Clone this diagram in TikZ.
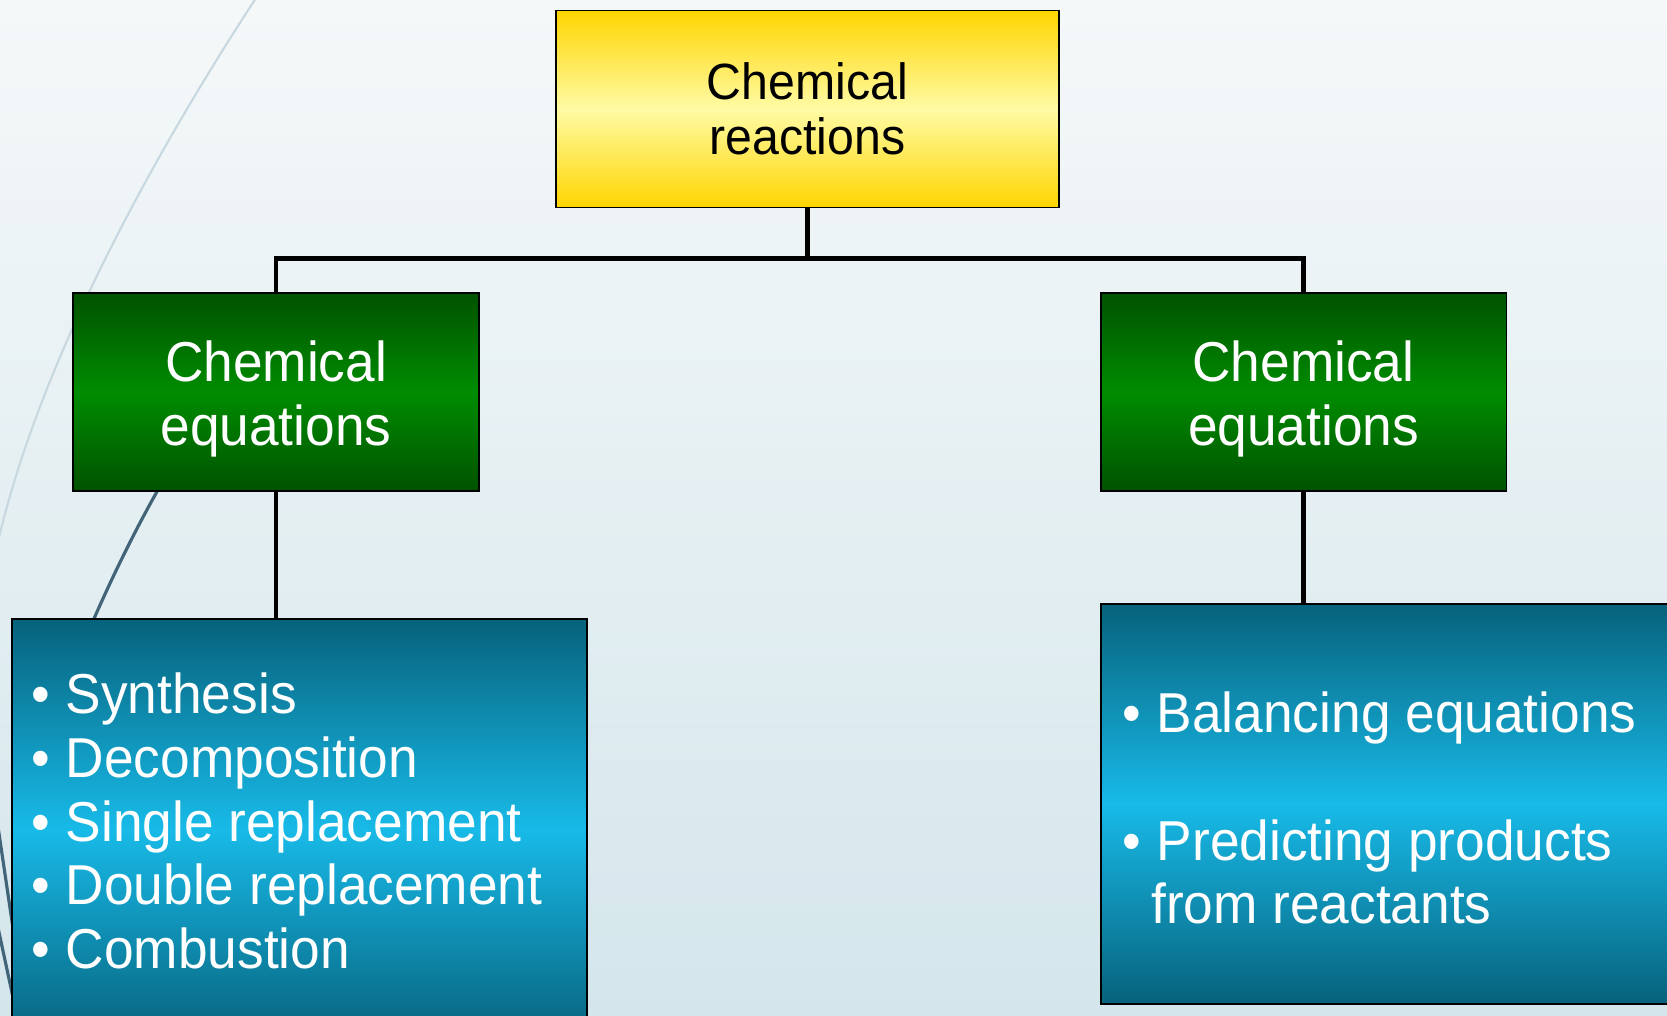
\documentclass[tikz,border=0pt]{standalone}
\usepackage{fontspec}
\setmainfont{Liberation Sans}[FakeStretch=0.947]
\usetikzlibrary{positioning}
\definecolor{bgtop}{RGB}{245,248,249}
\definecolor{bgbot}{RGB}{212,230,236}
\definecolor{gold}{RGB}{255,213,0}
\definecolor{paleyel}{RGB}{255,251,165}
\definecolor{greendk}{RGB}{0,82,0}
\definecolor{greenmd}{RGB}{0,140,0}
\definecolor{tealdk}{RGB}{7,98,124}
\definecolor{tealmd}{RGB}{24,186,232}
\definecolor{arcdark}{RGB}{66,100,120}
\definecolor{arclight}{RGB}{200,216,224}
\newcommand{\bitem}[1]{\makebox[0.68cm][l]{\textbullet}#1}
\newcommand{\toproom}{\rule{0pt}{31pt}}

\begin{document}
\begin{tikzpicture}
	[x=0.02cm,y=-0.02cm,
	every node/.style={inner sep=0pt},
	box/.style={draw=black,line width=1.1pt,align=center},
	gold box/.style={box,top color=gold,bottom color=gold,middle color=paleyel,
		minimum width=10.06cm,minimum height=3.94cm,font=\fontsize{29}{31.3}\selectfont},
	green box/.style={box,top color=greendk,bottom color=greendk,middle color=greenmd,
		text=white,minimum width=8.12cm,minimum height=3.96cm,font=\fontsize{32}{36.4}\selectfont},
	teal box/.style={box,top color=tealdk,bottom color=tealdk,middle color=tealmd},
	list/.style={text=white,align=left,anchor=north west,font=\fontsize{32}{36.4}\selectfont},
	link/.style={draw,line width=2.8pt}]
	\useasboundingbox (0,0) rectangle (1667,1016);
	\clip (0,0) rectangle (1667,1016);
	\fill[top color=bgtop,bottom color=bgbot] (0,0) rectangle (1667,1016);
	\draw[arclight,line width=1.2pt] (258,-5) .. controls (150,160) and (35,370) .. (-5,555);
	\draw[arcdark,line width=1.8pt] (185,445) .. controls (130,530) and (60,680) .. (30,800);
	\draw[arcdark,line width=1.8pt] (-3,820) -- (26,1016);
	\draw[arcdark,line width=1.8pt] (-3,923) -- (17,1016);
	\node[gold box] (top) at (807.5,109) {Chemical\\reactions};
	\node[green box] (eqleft) at (276,392) {\toproom Chemical\\equations};
	\node[green box] (eqright) at (1303.5,392) {\toproom Chemical\\equations};
	\node[teal box,minimum width=11.5cm,minimum height=8.42cm] (typebox) at (299.5,829.5) {};
	\node[teal box,minimum width=11.98cm,minimum height=8cm] (skillbox) at (1400.5,804) {};
	\node[list] (types) at (31.5,672) {\bitem{Synthesis}\\ \bitem{Decomposition}\\
		\bitem{Single replacement}\\ \bitem{Double replacement}\\ \bitem{Combustion}};
	\node[list] (skills) at (1122.5,691) {\bitem{Balancing equations}\\[36.4pt]
		\bitem{Predicting products}\\ \hspace*{0.57cm}from reactants};
	\draw[link] (top.south) -- ++(0,50) coordinate (split) -| (eqleft.north);
	\draw[link] (split) -| (eqright.north);
	\draw[link] (eqleft.south) -- (eqleft.south |- typebox.north);
	\draw[link] (eqright.south) -- (eqright.south |- skillbox.north);
\end{tikzpicture}
\end{document}
